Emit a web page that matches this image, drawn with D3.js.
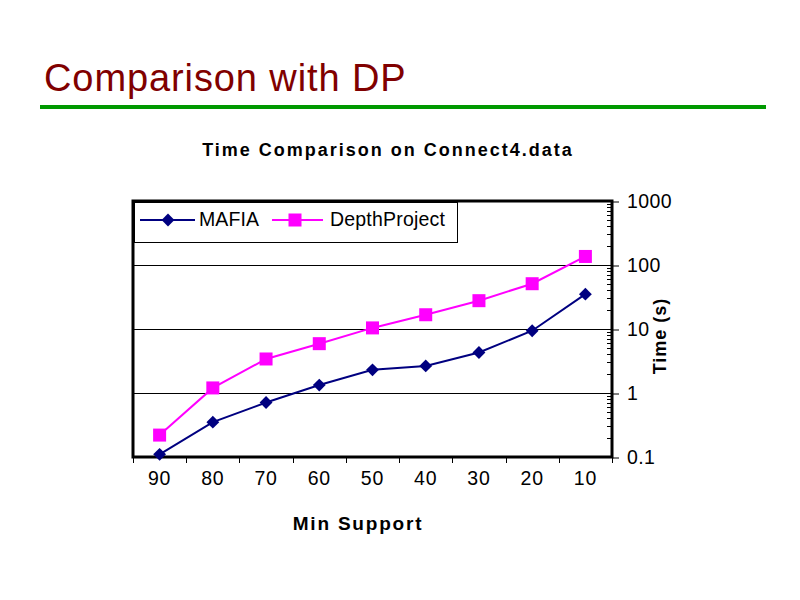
<!DOCTYPE html>
<html><head><meta charset="utf-8">
<script src="https://cdn.jsdelivr.net/npm/d3@7"></script>
<style>
body{margin:0;background:#fff;}
svg{display:block;font-family:"Liberation Sans",Arial,sans-serif;}
</style></head>
<body>
<svg id="c" width="800" height="600"></svg>
<script>
const categories = ["90","80","70","60","50","40","30","20","10"];
const mafia = [0.11, 0.35, 0.71, 1.33, 2.3, 2.65, 4.3, 9.4, 35];
const depthProject = [0.22, 1.2, 3.4, 5.9, 10.4, 16.7, 27.7, 51, 136];
const yTicks = [0.1, 1, 10, 100, 1000];
const yTickLabels = ["0.1", "1", "10", "100", "1000"];
const seriesNames = ["MAFIA", "DepthProject"];

const svg = d3.select("#c");
// slide title
svg.append("text").attr("x", 44).attr("y", 91)
  .attr("font-size", 38).attr("letter-spacing", 0.9).attr("fill", "#800000").text("Comparison with DP");
svg.append("rect").attr("x", 40).attr("y", 105).attr("width", 726).attr("height", 4).attr("fill", "#009900");

const L = 133, R = 612, T = 201, B = 457;
const x = d3.scaleBand().domain(categories).range([L, R]);
const y = d3.scaleLog().domain([0.1, 1000]).range([B, T]);

// chart title
svg.append("text").attr("x", 388).attr("y", 156).attr("text-anchor", "middle")
  .attr("font-size", 18).attr("font-weight", "bold").attr("letter-spacing", 2)
  .text("Time Comparison on Connect4.data");

// gridlines
svg.append("g").selectAll("line").data(yTicks.slice(1, 4)).join("line")
  .attr("x1", L).attr("x2", R).attr("y1", d => Math.round(y(d)) + 0.5).attr("y2", d => Math.round(y(d)) + 0.5)
  .attr("stroke", "#000").attr("stroke-width", 1);

// minor ticks on right axis (inward)
const minor = [];
for (let e = -1; e < 3; e++) for (let m = 2; m <= 9; m++) minor.push(m * Math.pow(10, e));
svg.append("g").selectAll("line").data(minor).join("line")
  .attr("x1", R - 5).attr("x2", R).attr("y1", d => Math.round(y(d)) + 0.5).attr("y2", d => Math.round(y(d)) + 0.5)
  .attr("stroke", "#000").attr("stroke-width", 1);

// right axis
const yAxis = d3.axisRight(y).tickValues(yTicks).tickSize(7).tickPadding(8)
  .tickFormat((d, i) => yTickLabels[i]);
const ya = svg.append("g").attr("transform", `translate(${R},0)`).call(yAxis);
ya.select(".domain").remove();
ya.selectAll("line").attr("stroke", "#000").attr("transform", "translate(0,0.5)");
ya.selectAll("text").attr("font-size", 19.5).attr("font-family", "Liberation Sans, Arial, sans-serif").attr("fill", "#000").attr("letter-spacing", 0.4);

// bottom axis
const xAxis = d3.axisBottom(x).tickSize(0).tickPadding(0);
const xa = svg.append("g").attr("transform", `translate(0,${B})`).call(xAxis);
xa.select(".domain").remove();
xa.selectAll("text").attr("font-size", 19.5).attr("font-family", "Liberation Sans, Arial, sans-serif")
  .attr("fill", "#000").attr("dy", null).attr("y", 28).attr("letter-spacing", 0.8);
// bottom boundary ticks
const bticks = categories.map(c => x(c)).concat([R]);
svg.append("g").selectAll("line").data(bticks).join("line")
  .attr("x1", d => Math.round(d) + 0.5).attr("x2", d => Math.round(d) + 0.5).attr("y1", B).attr("y2", B + 6)
  .attr("stroke", "#000").attr("stroke-width", 1);

// plot border
svg.append("rect").attr("x", L).attr("y", T).attr("width", R - L).attr("height", B - T)
  .attr("fill", "none").attr("stroke", "#000").attr("stroke-width", 3);

// axis titles
svg.append("text").attr("x", 358).attr("y", 530).attr("text-anchor", "middle")
  .attr("font-size", 19).attr("font-weight", "bold").attr("letter-spacing", 1.8).text("Min Support");
svg.append("text").attr("transform", "translate(666,336) rotate(-90)").attr("text-anchor", "middle")
  .attr("font-size", 18).attr("font-weight", "bold").attr("letter-spacing", 1).text("Time (s)");

// lines
const cx = c => x(c) + x.bandwidth() / 2;
const line = d3.line().x((d, i) => cx(categories[i])).y(d => y(d));
svg.append("path").datum(depthProject).attr("d", line).attr("fill", "none").attr("stroke", "#ff00ff").attr("stroke-width", 2);
svg.append("path").datum(mafia).attr("d", line).attr("fill", "none").attr("stroke", "#000080").attr("stroke-width", 2);

svg.append("g").selectAll("rect").data(depthProject).join("rect")
  .attr("x", (d, i) => cx(categories[i]) - 6.5).attr("y", d => y(d) - 6.5)
  .attr("width", 13).attr("height", 13).attr("fill", "#ff00ff");
const diamond = d3.symbol().type(d3.symbolDiamond2).size(105);
svg.append("g").selectAll("path").data(mafia).join("path")
  .attr("transform", (d, i) => `translate(${cx(categories[i])},${y(d)})`)
  .attr("d", diamond).attr("fill", "#000080");

// legend
const lg = svg.append("g");
lg.append("rect").attr("x", 134.5).attr("y", 202.5).attr("width", 323).attr("height", 40)
  .attr("fill", "#fff").attr("stroke", "#000").attr("stroke-width", 1);
lg.append("line").attr("x1", 140).attr("x2", 195).attr("y1", 220).attr("y2", 220).attr("stroke", "#000080").attr("stroke-width", 2);
lg.append("path").attr("transform", "translate(168,220)").attr("d", diamond).attr("fill", "#000080");
lg.append("text").attr("x", 199).attr("y", 226).attr("font-size", 19.5).attr("letter-spacing", 0.1).text(seriesNames[0]);
lg.append("line").attr("x1", 272).attr("x2", 323).attr("y1", 220).attr("y2", 220).attr("stroke", "#ff00ff").attr("stroke-width", 2);
lg.append("rect").attr("x", 288.5).attr("y", 213.5).attr("width", 13).attr("height", 13).attr("fill", "#ff00ff");
lg.append("text").attr("x", 330).attr("y", 226).attr("font-size", 19.5).attr("letter-spacing", 0.2).text(seriesNames[1]);
</script>
</body></html>
